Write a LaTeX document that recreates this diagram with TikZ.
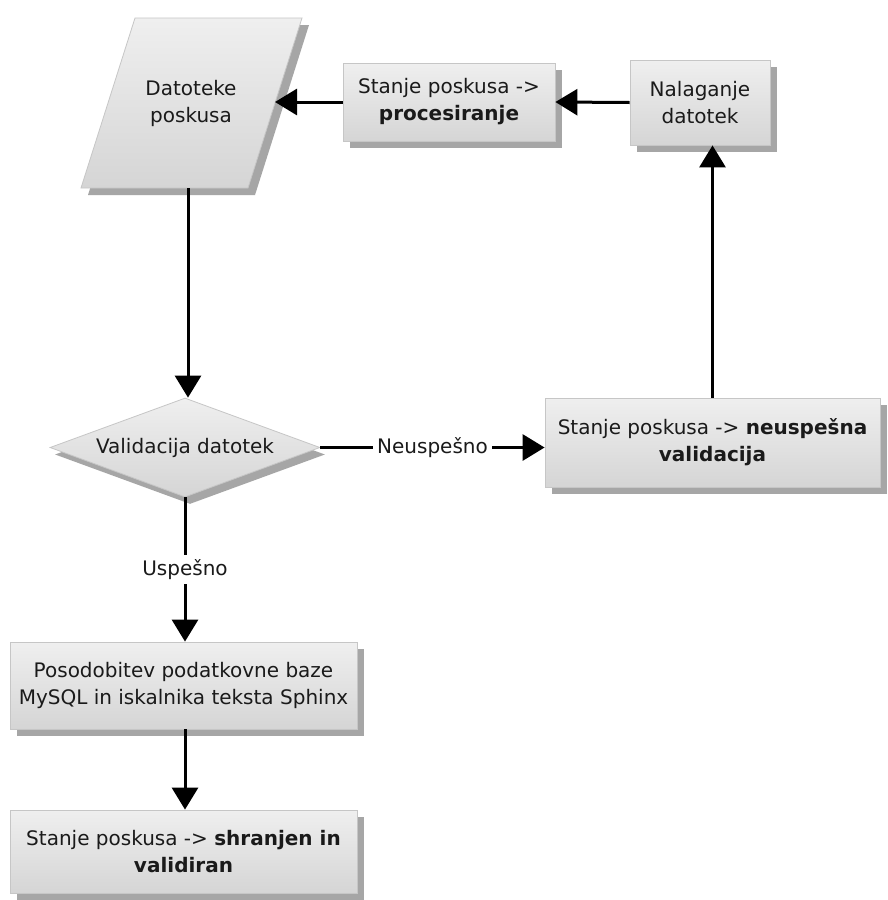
\documentclass[tikz,border=0pt]{standalone}
\usepackage{fontspec}
\setmainfont{DejaVu Sans}
\usetikzlibrary{arrows.meta,shapes.geometric,shadows}
\definecolor{boxtop}{HTML}{EFEFEF}
\definecolor{boxbot}{HTML}{D5D5D5}
\definecolor{boxline}{HTML}{C6C6C6}
\definecolor{shadowgray}{HTML}{A6A6A6}
\definecolor{ink}{HTML}{1A1A1A}
\tikzset{
  txt/.style={font=\fontsize{20}{27}\selectfont, text=ink, align=center},
  procbox/.style={txt, rectangle, draw=boxline, line width=0.8pt,
    top color=boxtop, bottom color=boxbot, inner sep=0pt,
    general shadow={shadow xshift=7pt, shadow yshift=-7pt, fill=shadowgray, draw=none}},
  decision/.style={txt, diamond, aspect=2.7, draw=boxline, line width=0.8pt,
    top color=boxtop, bottom color=boxbot, inner sep=0pt,
    general shadow={shadow xshift=5pt, shadow yshift=-7pt, fill=shadowgray, draw=none}},
  flow/.style={draw=black, line width=3pt, -{Triangle[length=22pt,width=26pt]}},
  edgelabel/.style={txt, fill=white, inner sep=4pt},
}
\begin{document}
\begin{tikzpicture}[x=1pt, y=-1pt]
  \useasboundingbox (0,0) rectangle (888,900);
  \fill[white] (0,0) rectangle (888,900);

  % input/output parallelogram
  \coordinate (dTL) at (135,18);
  \coordinate (dTR) at (302,18);
  \coordinate (dBR) at (248,188);
  \coordinate (dBL) at (81,188);
  \fill[shadowgray] ([shift={(7,7)}]dTL) -- ([shift={(7,7)}]dTR)
    -- ([shift={(7,7)}]dBR) -- ([shift={(7,7)}]dBL) -- cycle;
  \draw[boxline, line width=0.8pt, top color=boxtop, bottom color=boxbot]
    (dTL) -- (dTR) -- (dBR) -- (dBL) -- cycle;
  \node[txt] (dat) at (191,103) {Datoteke\\poskusa};
  \coordinate (datR) at (275,102);
  \coordinate (datB) at (188,188);

  % process boxes
  \node[procbox, minimum width=212pt, minimum height=78pt] (proc) at (449,102)
    {Stanje poskusa ->\\\textbf{procesiranje}};
  \node[procbox, minimum width=140pt, minimum height=85pt] (nal) at (700,102.5)
    {Nalaganje\\datotek};
  \node[decision, minimum width=270pt, minimum height=99pt] (val) at (185,447.5)
    {Validacija datotek};
  \node[procbox, minimum width=335pt, minimum height=89pt] (neu) at (712.5,442.5)
    {Stanje poskusa -> \textbf{neuspešna}\\\textbf{validacija}};
  \node[procbox, minimum width=347pt, minimum height=87pt] (pos) at (183.5,685.5)
    {Posodobitev podatkovne baze\\MySQL in iskalnika teksta Sphinx};
  \node[procbox, minimum width=347pt, minimum height=83pt] (shr) at (183.5,851.5)
    {Stanje poskusa -> \textbf{shranjen in}\\\textbf{validiran}};

  % connectors
  \draw[flow] (nal.west) -- (proc.east);
  \draw[flow] (proc.west) -- (datR);
  \draw[flow] (datB) -- (datB |- val.north);
  \draw[flow] (val.east) -- node[edgelabel] {Neuspešno} (neu.west |- val.east);
  \draw[flow] (neu.north) -- (neu.north |- nal.south);
  \draw[flow] (val.south) -- node[edgelabel] {Uspešno} (val.south |- pos.north);
  \draw[flow] (val.south |- pos.south) -- (val.south |- shr.north);
\end{tikzpicture}
\end{document}
